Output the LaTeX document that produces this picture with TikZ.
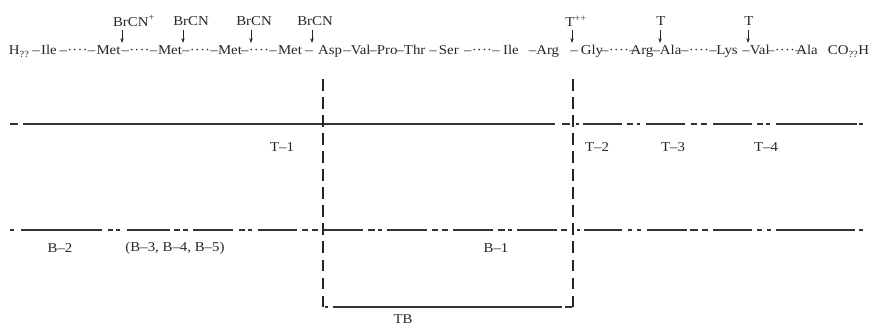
\documentclass[tikz,border=0pt]{standalone}
\usepackage{fontspec}
\setmainfont{Liberation Serif}[FakeStretch=1.1]
\usetikzlibrary{arrows.meta}
\newcommand\dotbond{–\kern0.3pt·\kern0.2pt·\kern0.2pt·\kern0.2pt·\kern0.3pt–}
\begin{document}
\begin{tikzpicture}[x=1pt,y=-1pt,
  font=\fontsize{13.5}{15}\selectfont,
  seq/.style={anchor=base, inner sep=0pt, outer sep=0pt, text=black!85},
  lab/.style={anchor=center, inner sep=0pt, text=black!85},
  cut/.style={-{Stealth[length=5pt,width=3.4pt]}, line width=0.7pt, black!85},
  frag/.style={line width=1.8pt, black!80},
  vdash/.style={line width=1.8pt, black!85, dash pattern=on 11.5pt off 6.5pt}]
\useasboundingbox (0,0) rectangle (871,326);
% ---- sequence ----
\node[seq, anchor=base west] (s1) at (9,55) {H\textsubscript{??}};
\node[seq] (s2) at (36,55) {–};
\node[seq] (s3) at (49,55) {Ile};
\node[seq] (s4) at (77.5,55) {\dotbond};
\node[seq] (s5) at (108.5,55) {Met};
\node[seq] (s6) at (139.5,55) {\dotbond};
\node[seq] (s7) at (170,55) {Met};
\node[seq] (s8) at (200,55) {\dotbond};
\node[seq] (s9) at (230,55) {Met};
\node[seq] (s10) at (259,55) {\dotbond};
\node[seq] (s11) at (290,55) {Met};
\node[seq] (s12) at (309,55) {–};
\node[seq] (s13) at (330,55) {Asp};
\node[seq] (s14) at (357,55) {–Val};
\node[seq] (s15) at (383.5,55) {–Pro};
\node[seq] (s16) at (411,55) {–Thr};
\node[seq] (s17) at (444,55) {–\,Ser};
\node[seq] (s18) at (482,55) {\dotbond};
\node[seq] (s19) at (511,55) {Ile};
\node[seq] (s20) at (544,55) {–Arg};
\node[seq] (s21) at (574,55) {–};
\node[seq] (s22) at (592,55) {Gly};
\node[seq] (s23) at (619,55) {\dotbond};
\node[seq] (s24) at (642,55) {Arg};
\node[seq] (s25) at (667,55) {–Ala};
\node[seq] (s26) at (699,55) {\dotbond};
\node[seq] (s27) at (727,55) {Lys};
\node[seq] (s28) at (756,55) {–Val};
\node[seq] (s29) at (785,55) {\dotbond};
\node[seq] (s30) at (807,55) {Ala};
\node[seq, anchor=base east] (s31) at (869,55) {CO\textsubscript{??}H};
% ---- cleavage labels and arrows ----
\node[lab] (c1) at (134,21) {BrCN\textsuperscript{+}};
\node[lab] (c2) at (191,21) {BrCN};
\node[lab] (c3) at (254,21) {BrCN};
\node[lab] (c4) at (315,21) {BrCN};
\node[lab] (c5) at (576,21) {T\textsuperscript{++}};
\node[lab] (c6) at (661,21) {T};
\node[lab] (c7) at (749,21) {T};
\foreach \i/\x in {1/122,2/183,3/251,4/312,5/572,6/660,7/748}{
  \coordinate (at\i) at (\x,30);
  \coordinate (ab\i) at (\x,43);
  \draw[cut] (at\i) -- (ab\i);
}
% ---- T fragments line ----
\foreach \a/\b in {10/18,23/555,562/570,576/579,583/622,627/633,637/640,646/685,691/697,701/707,713/752,757/763,766/770,776/857,859/863}
  \draw[frag] (\a,124) -- (\b,124);
% ---- B fragments line ----
\foreach \a/\b in {10/14,21/102,108/113,116/120,127/170,174/180,183/188,193/233,239/245,248/252,258/297,302/308,312/318,323/363,368/375,378/382,387/427,432/438,442/448,453/493,498/505,508/512,517/557,561/567,577/580,584/622,628/632,637/641,647/687,690/698,702/708,713/752,757/762,767/771,776/855,859/863}
  \draw[frag] (\a,230) -- (\b,230);
% ---- TB box ----
\coordinate (v1b) at (323,307);
\coordinate (v1t) at (323,78);
\coordinate (v2b) at (573,307);
\coordinate (v2t) at (573,78);
\draw[vdash] (v1b) -- (v1t);
\draw[vdash] (v2b) -- (v2t);
\draw[frag] (325,307) -- (328,307);
\draw[frag] (333,307) -- (562,307);
\draw[frag] (565,307) -- (572,307);
% ---- labels ----
\node[lab] (t1) at (282,147) {T–1};
\node[lab] (t2) at (597,147) {T–2};
\node[lab] (t3) at (673,147) {T–3};
\node[lab] (t4) at (766,147) {T–4};
\node[lab] (b2) at (60,248) {B–2};
\node[lab] (b345) at (175,248) {(B–3, B–4, B–5)};
\node[lab] (b1) at (496,248) {B–1};
\node[lab] (tb) at (403,319) {TB};
\end{tikzpicture}
\end{document}
